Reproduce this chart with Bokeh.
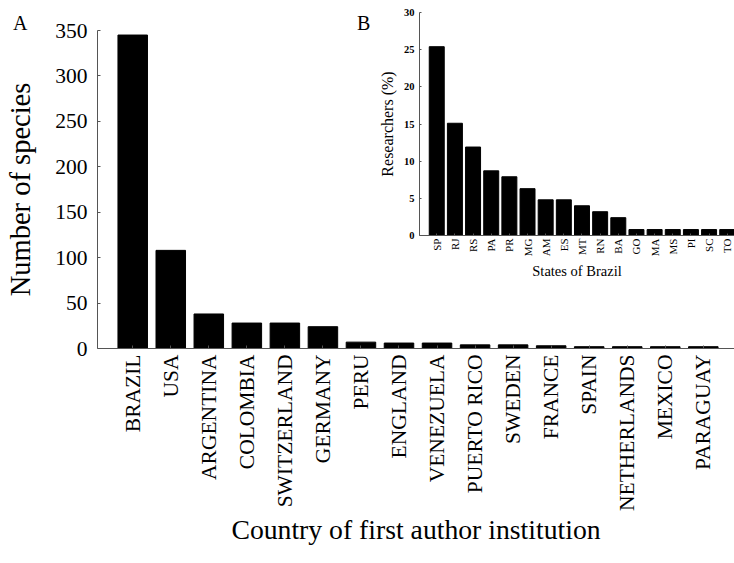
from math import pi
from bokeh.plotting import figure
from bokeh.models import ColumnDataSource, FixedTicker, Range1d, Div
from bokeh.layouts import column
from bokeh.embed import file_html
from bokeh.resources import INLINE

# ---- data: main chart ----
countries = ["BRAZIL", "USA", "ARGENTINA", "COLOMBIA", "SWITZERLAND", "GERMANY",
             "PERU", "ENGLAND", "VENEZUELA", "PUERTO RICO", "SWEDEN", "FRANCE",
             "SPAIN", "NETHERLANDS", "MEXICO", "PARAGUAY"]
species = [345, 108, 38, 28, 28, 24, 7, 6, 6, 4, 4, 3, 2, 2, 2, 2]
species_ticks = [0, 50, 100, 150, 200, 250, 300, 350]

# ---- data: inset ----
states = ["SP", "RJ", "RS", "PA", "PR", "MG", "AM", "ES", "MT", "RN", "BA",
          "GO", "MA", "MS", "PI", "SC", "TO"]
researchers = [25.4, 15.1, 11.9, 8.7, 7.9, 6.3, 4.8, 4.8, 4.0, 3.2, 2.4,
               0.8, 0.8, 0.8, 0.8, 0.8, 0.8]
pct_ticks = [0, 5, 10, 15, 20, 25, 30]

FONT = "Liberation Serif"
AXIS_COL = "#555555"
LEFT = 97  # left border (column aligns the left borders of both plots)

# ---- main figure ----
xpos = list(range(1, len(countries) + 1))
src = ColumnDataSource(dict(x=xpos, species=species, name=countries))

p = figure(width=734, height=560, x_range=Range1d(0.074, 16.82), y_range=Range1d(0, 350),
           output_backend="svg", toolbar_location=None,
           min_border_left=LEFT, min_border_right=0, min_border_top=30, min_border_bottom=212)
p.vbar(x="x", top="species", width=0.776, source=src, color="black")

p.xgrid.visible = False
p.ygrid.visible = False
p.outline_line_color = None

xa = p.xaxis[0]
xa.ticker = FixedTicker(ticks=xpos)
xa.major_label_overrides = {i: c for i, c in zip(xpos, countries)}
xa.major_label_orientation = pi / 2
xa.major_tick_in = 3
xa.major_tick_out = 0
xa.minor_tick_line_color = None
xa.major_label_standoff = 6
xa.major_label_text_font = FONT
xa.major_label_text_font_size = "21.5px"
xa.major_label_text_color = "black"
xa.axis_line_color = AXIS_COL
xa.major_tick_line_color = AXIS_COL
xa.axis_label = "Country of first author institution"
xa.axis_label_text_font = FONT
xa.axis_label_text_font_style = "normal"
xa.axis_label_text_font_size = "27.7px"
xa.axis_label_text_color = "black"
xa.axis_label_standoff = 0

ya = p.yaxis[0]
ya.ticker = FixedTicker(ticks=species_ticks)
ya.major_tick_in = 3
ya.major_tick_out = 0
ya.minor_tick_line_color = None
ya.major_label_standoff = 10
ya.major_label_text_font = FONT
ya.major_label_text_font_size = "21.5px"
ya.major_label_text_color = "black"
ya.axis_line_color = AXIS_COL
ya.major_tick_line_color = AXIS_COL
ya.axis_label = "Number of species"
ya.axis_label_text_font = FONT
ya.axis_label_text_font_style = "normal"
ya.axis_label_text_font_size = "28.5px"
ya.axis_label_text_color = "black"
ya.axis_label_standoff = 16

# ---- inset figure ----
spos = list(range(1, len(states) + 1))
src2 = ColumnDataSource(dict(x=spos, pct=researchers, name=states))

q = figure(width=412, height=288, x_range=Range1d(0.05, 17.4), y_range=Range1d(0, 30),
           output_backend="svg", toolbar_location=None,
           min_border_left=LEFT, min_border_right=0, min_border_top=10, min_border_bottom=55)
q.vbar(x="x", top="pct", width=0.825, source=src2, color="black")
q.xgrid.visible = False
q.ygrid.visible = False
q.outline_line_color = None
q.background_fill_color = None
q.border_fill_color = None

qa = q.xaxis[0]
qa.ticker = FixedTicker(ticks=spos)
qa.major_label_overrides = {i: s for i, s in zip(spos, states)}
qa.major_label_orientation = pi / 2
qa.major_tick_in = 2
qa.major_tick_out = 0
qa.minor_tick_line_color = None
qa.major_label_standoff = 3
qa.major_label_text_font = FONT
qa.major_label_text_font_size = "11px"
qa.major_label_text_color = "black"
qa.axis_line_color = AXIS_COL
qa.major_tick_line_color = AXIS_COL
qa.axis_label = "States of Brazil"
qa.axis_label_text_font = FONT
qa.axis_label_text_font_style = "normal"
qa.axis_label_text_font_size = "14.5px"
qa.axis_label_text_color = "black"
qa.axis_label_standoff = 4

qy = q.yaxis[0]
qy.ticker = FixedTicker(ticks=pct_ticks)
qy.major_tick_in = 2
qy.major_tick_out = 0
qy.minor_tick_line_color = None
qy.major_label_standoff = 5
qy.major_label_text_font = FONT
qy.major_label_text_font_style = "bold"
qy.major_label_text_font_size = "10.5px"
qy.major_label_text_color = "black"
qy.axis_line_color = AXIS_COL
qy.major_tick_line_color = AXIS_COL
qy.axis_label = "Researchers (%)"
qy.axis_label_text_font = FONT
qy.axis_label_text_font_style = "normal"
qy.axis_label_text_font_size = "16px"
qy.axis_label_text_color = "black"
qy.axis_label_standoff = 5

# overlay the inset on the upper-right part of the main chart
q.margin = (-558, 0, 0, 322)

# panel letters
letter_style = {"font-family": FONT, "font-size": "20px", "line-height": "20px",
                "color": "black"}
div_b = Div(text="B", width=20, height=22, styles=letter_style, margin=(-277, 0, 0, 357))
div_a = Div(text="A", width=20, height=22, styles=letter_style, margin=(-22, 0, 0, 13))

layout = column(p, q, div_b, div_a)
open("out.html", "w").write(file_html(layout, INLINE))
